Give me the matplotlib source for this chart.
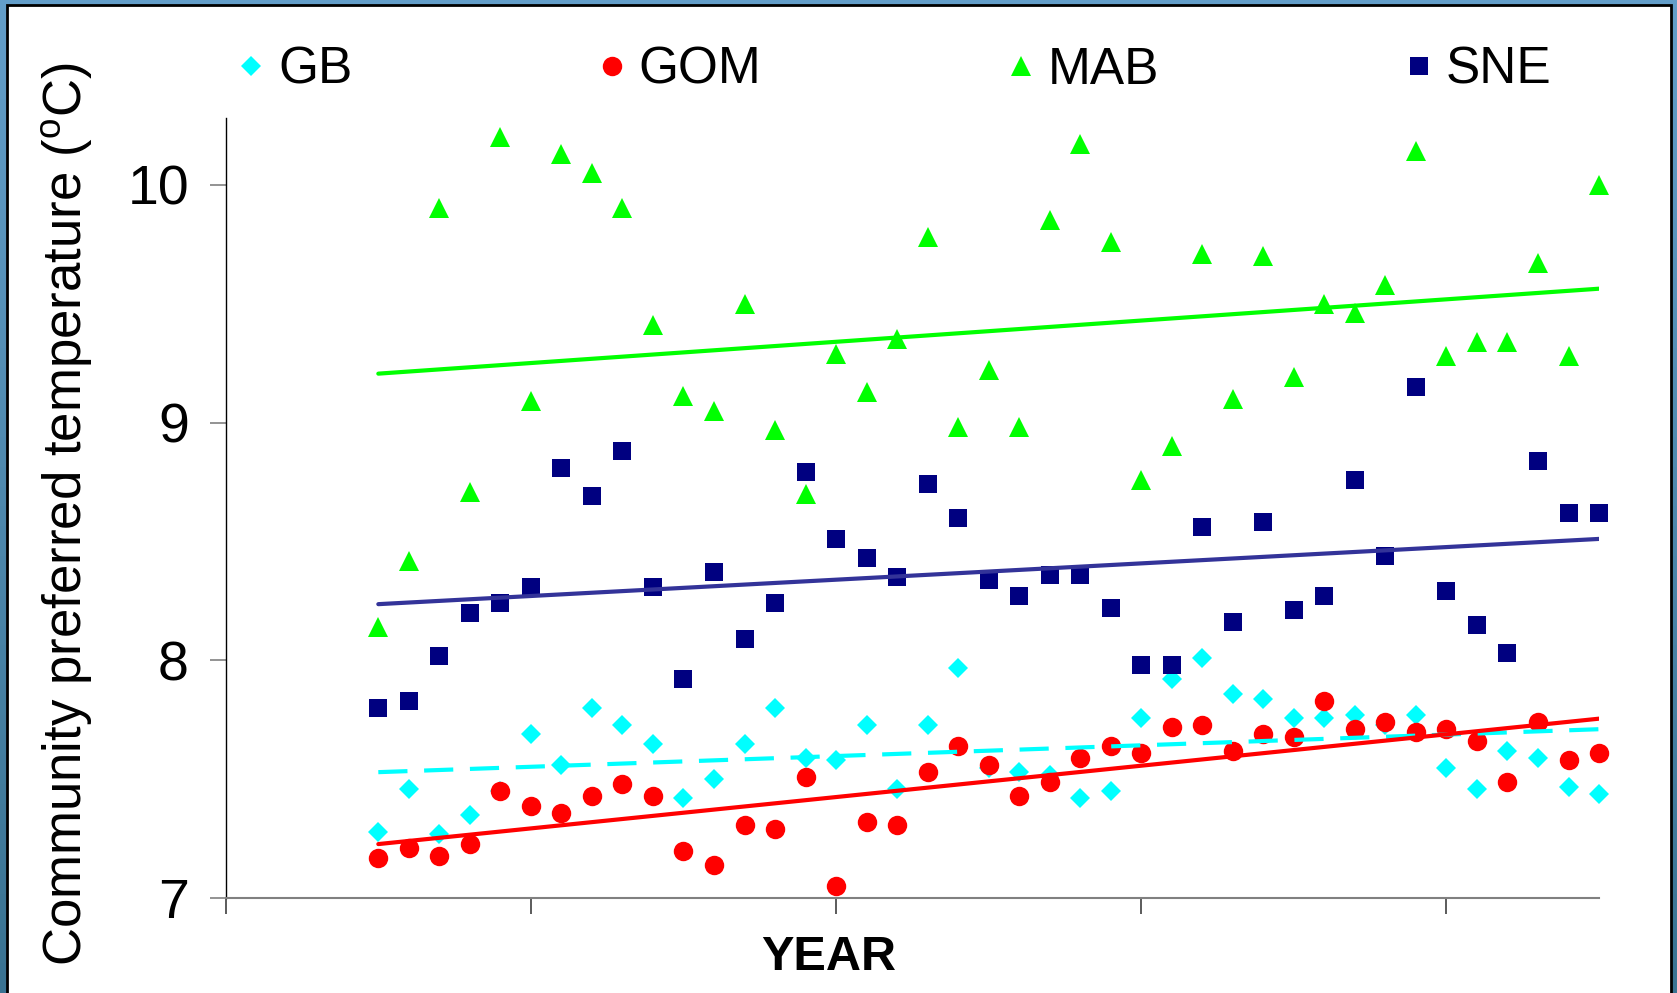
import numpy as np
import matplotlib
matplotlib.use("Agg")
import matplotlib.pyplot as plt
from matplotlib.patches import Rectangle
from matplotlib.colors import LinearSegmentedColormap

plt.rcParams['font.family'] = ['Liberation Sans', 'DejaVu Sans']
plt.rcParams['mathtext.fontset'] = 'custom'
plt.rcParams['mathtext.rm'] = 'Liberation Sans'

# data (one point per year)
years = list(range(1965, 2006))

gb = [7.28, 7.46, 7.27, 7.35, 7.45, 7.69, 7.56, 7.80, 7.73, 7.65,
      7.42, 7.50, 7.65, 7.80, 7.59, 7.58, 7.73, 7.46, 7.73, 7.97,
      7.55, 7.53, 7.52, 7.42, 7.45, 7.76, 7.92, 8.01, 7.86, 7.84,
      7.76, 7.76, 7.77, 7.73, 7.77, 7.55, 7.46, 7.62, 7.59, 7.47, 7.44]

gom = [7.17, 7.21, 7.18, 7.23, 7.45, 7.39, 7.36, 7.43, 7.48, 7.43,
       7.20, 7.14, 7.31, 7.29, 7.51, 7.05, 7.32, 7.31, 7.53, 7.64,
       7.56, 7.43, 7.49, 7.59, 7.64, 7.61, 7.72, 7.73, 7.62, 7.69,
       7.68, 7.83, 7.71, 7.74, 7.70, 7.71, 7.66, 7.49, 7.74, 7.58, 7.61]

mab = [8.14, 8.42, 9.90, 8.71, 10.20, 9.09, 10.13, 10.05, 9.90, 9.41,
       9.11, 9.05, 9.50, 8.97, 8.70, 9.29, 9.13, 9.35, 9.78, 8.98,
       9.22, 8.98, 9.85, 10.17, 9.76, 8.76, 8.90, 9.71, 9.10, 9.70,
       9.19, 9.50, 9.46, 9.58, 10.14, 9.28, 9.34, 9.34, 9.67, 9.28, 10.00]

sne = [7.80, 7.83, 8.02, 8.20, 8.24, 8.31, 8.81, 8.69, 8.88, 8.31,
       7.92, 8.37, 8.09, 8.24, 8.79, 8.51, 8.43, 8.35, 8.74, 8.60,
       8.34, 8.27, 8.36, 8.36, 8.22, 7.98, 7.98, 8.56, 8.16, 8.58,
       8.21, 8.27, 8.76, 8.44, 9.15, 8.29, 8.15, 8.03, 8.84, 8.62, 8.62]

x_ticks = [1960, 1970, 1980, 1990, 2000]

fig = plt.figure(figsize=(16.77, 9.93), dpi=100)

# blue backdrop + white panel with black edge
bg = fig.add_axes([0, 0, 1, 1], zorder=-2)
cmap = LinearSegmentedColormap.from_list("bg", ["#3a7392", "#639ec9"])
bg.imshow(np.linspace(0, 1, 100).reshape(-1, 1), aspect='auto', cmap=cmap,
          origin='lower', extent=[0, 1, 0, 1])
bg.axis('off')
panel = Rectangle((7 / 1677, -0.05), (1671 - 7) / 1677, (993 - 5) / 993 + 0.05,
                  transform=fig.transFigure, facecolor='white',
                  edgecolor='black', linewidth=2, zorder=-1)
fig.add_artist(panel)

ax = fig.add_axes([0.1346, 0.0953, 0.8189, 0.7859])
ax.set_facecolor('white')

ax.plot(years, gb, 'D', color='#00FFFF', ms=10.5, mew=0, label='GB', clip_on=False, zorder=3)
ax.plot(years, gom, 'o', color='#FF0000', ms=14, mew=0, label='GOM', clip_on=False, zorder=3)
ax.plot(years, mab, '^', color='#00FF00', ms=14, mew=0, label='MAB', clip_on=False, zorder=3)
ax.plot(years, sne, 's', color='#000080', ms=12.5, mew=0, label='SNE', clip_on=False, zorder=3)

# linear trend lines
yrs = np.array(years)
for vals, col, ls in [(gb, '#00FFFF', '--'), (gom, '#FF0000', '-'),
                      (mab, '#00FF00', '-'), (sne, '#333399', '-')]:
    k, b = np.polyfit(yrs, vals, 1)
    line, = ax.plot([yrs[0], yrs[-1]], [k * yrs[0] + b, k * yrs[-1] + b],
                    color=col, lw=3, ls=ls, zorder=4, solid_capstyle='round')
    if ls == '--':
        line.set_dashes((7, 4))

ax.set_xlim(1960, 2005)
ax.set_ylim(7, 10.28)
ax.set_xticks(x_ticks)
ax.set_xticklabels([])
ax.set_yticks([7, 8, 9, 10])
ax.set_yticklabels(['7', '8', '9', '10'])

ax.spines['top'].set_visible(False)
ax.spines['right'].set_visible(False)
ax.spines['left'].set_color('black')
ax.spines['left'].set_linewidth(1)
ax.spines['bottom'].set_color('#808080')
ax.spines['bottom'].set_linewidth(1.5)
ax.tick_params(axis='y', direction='out', length=11.5, width=1.2, color='#808080',
               labelsize=40, pad=15)
ax.tick_params(axis='x', direction='out', length=11.5, width=1.2, color='#404040')

fig.text(67 / 1677, 1 - 514 / 993, r'Community preferred temperature ($^{\mathrm{o}}$C)',
         rotation=90, ha='center', va='center', fontsize=38)
fig.text(829 / 1677, 1 - 958 / 993, 'YEAR', ha='center', va='center',
         fontsize=35, fontweight='bold')

fig.legend(loc='center left', bbox_to_anchor=(236 / 1677, 1 - 70 / 993),
           ncol=4, frameon=False, fontsize=37, borderpad=0, borderaxespad=0,
           handlelength=0.6, handletextpad=0.22, columnspacing=4.75,
           markerscale=1.0)

fig.savefig('out.png', dpi=100)
